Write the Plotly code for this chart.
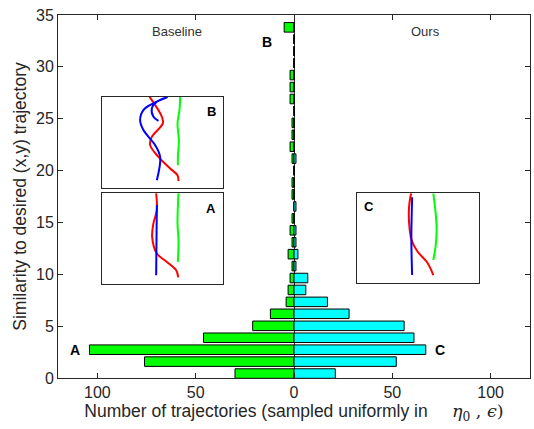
import plotly.graph_objects as go

# ---------------- data ----------------
bin_centers = [0.43, 1.58, 2.73, 3.88, 5.03, 6.19, 7.34, 8.49, 9.64, 10.79,
               11.94, 13.09, 14.24, 15.39, 16.54, 17.70, 18.85, 20.00, 21.15, 22.30,
               23.45, 24.60, 25.75, 26.90, 28.05, 29.21, 30.36, 31.51, 32.66, 33.81]
baseline_counts = [30, 76, 104, 46, 21, 12, 4, 3, 2, 1,
                   3, 1, 2, 1, 0, 1, 1, 0, 1, 2,
                   1, 1, 0, 2, 2, 2, 0, 0, 0, 5]
ours_counts = [21, 52, 67, 61, 56, 28, 17, 6, 7, 1,
               2, 1, 1, 0, 1, 0, 0, 0, 1, 0,
               0, 0, 0, 0, 0, 0, 0, 0, 0, 0]

x_tickvals = [-100, -50, 0, 50, 100]
x_ticktext = ["100", "50", "0", "50", "100"]
y_tickvals = [0, 5, 10, 15, 20, 25, 30, 35]

# inset trajectories (local picture coordinates inside each inset box)
inset_B_green_x = [78.3, 77.6, 75.6, 77.0, 76.0, 76.0]
inset_B_green_y = [0.0, 13.3, 26.7, 43.3, 60.0, 68.3]
inset_B_red_x = [47.6, 60.0, 61.0, 50.0, 48.3, 56.6, 68.3, 75.6, 76.6]
inset_B_red_y = [0.0, 20.0, 26.6, 40.0, 48.3, 60.0, 71.6, 78.3, 84.0]
inset_B_blue_x = [55.0, 58.3, 53.3, 41.6, 38.3, 41.6, 51.6, 65.0, 55.0, 50.0, 51.6, 56.6]
inset_B_blue_y = [83.3, 60.0, 48.3, 33.3, 23.3, 13.3, 6.6, 0.6, 5.0, 11.6, 20.0, 24.0]

inset_A_green_x = [76.6, 75.6, 76.6, 76.0]
inset_A_green_y = [0.6, 30.3, 47.3, 69.0]
inset_A_red_x = [54.3, 55.0, 51.6, 50.3, 55.0, 65.0, 74.3, 76.3]
inset_A_red_y = [0.6, 17.3, 30.6, 44.0, 60.6, 69.0, 77.3, 84.3]
inset_A_blue_x = [55.0, 54.3]
inset_A_blue_y = [12.3, 82.3]

inset_C_green_x = [75.4, 77.7, 78.7, 77.7, 75.4]
inset_C_green_y = [0.0, 20.0, 36.7, 53.4, 67.4]
inset_C_red_x = [53.4, 51.4, 51.4, 53.7, 59.4, 69.4, 75.4]
inset_C_red_y = [0.0, 13.4, 30.0, 46.7, 58.4, 70.0, 82.7]
inset_C_blue_x = [54.4, 53.7, 53.7, 54.4]
inset_C_blue_y = [4.0, 36.7, 53.4, 82.7]

AX = "#262626"
FONT = "Liberation Sans, Arial, Helvetica, sans-serif"

fig = go.Figure()

fig.add_trace(go.Bar(
    y=bin_centers, x=[-v for v in baseline_counts], orientation="h",
    width=0.92, marker=dict(color="#00FF00", line=dict(color="black", width=1)),
    showlegend=False, hoverinfo="skip"))
fig.add_trace(go.Bar(
    y=bin_centers, x=ours_counts, orientation="h",
    width=0.92, marker=dict(color="#00FFFF", line=dict(color="black", width=1)),
    showlegend=False, hoverinfo="skip"))

# ---------- insets ----------
W, H = 121.0, 91.0
insets = [
    ("2", (0.0926, 0.3496), (0.5234, 0.775),
     [(inset_B_red_x, inset_B_red_y, "#FF0000"),
      (inset_B_blue_x, inset_B_blue_y, "#0000FF"),
      (inset_B_green_x, inset_B_green_y, "#00FF00")], "B", 109.3, 14.3),
    ("3", (0.0926, 0.3496), (0.259, 0.5105),
     [(inset_A_red_x, inset_A_red_y, "#FF0000"),
      (inset_A_blue_x, inset_A_blue_y, "#0000FF"),
      (inset_A_green_x, inset_A_green_y, "#00FF00")], "A", 109.3, 15.3),
    ("4", (0.634, 0.8926), (0.2609, 0.5088),
     [(inset_C_red_x, inset_C_red_y, "#FF0000"),
      (inset_C_blue_x, inset_C_blue_y, "#0000FF"),
      (inset_C_green_x, inset_C_green_y, "#00FF00")], "C", 11.7, 13.7),
]

annotations = []
for n, xd, yd, curves, lab, lx, ly in insets:
    for cx, cy, col in curves:
        fig.add_trace(go.Scatter(x=cx, y=cy, mode="lines", xaxis="x" + n, yaxis="y" + n,
                                 line=dict(color=col, width=2, shape="spline", smoothing=1.0),
                                 showlegend=False, hoverinfo="skip"))
    fig.layout["xaxis" + n] = dict(domain=list(xd), range=[0, W], anchor="y" + n,
                                   showline=True, mirror=True, linecolor=AX, linewidth=1,
                                   showticklabels=False, ticks="", showgrid=False, zeroline=False,
                                   fixedrange=True, automargin=False)
    fig.layout["yaxis" + n] = dict(domain=list(yd), range=[H, 0], anchor="x" + n,
                                   showline=True, mirror=True, linecolor=AX, linewidth=1,
                                   showticklabels=False, ticks="", showgrid=False, zeroline=False,
                                   fixedrange=True, automargin=False)
    annotations.append(dict(x=lx, y=ly, xref="x" + n, yref="y" + n, text="<b>" + lab + "</b>",
                            showarrow=False, font=dict(family=FONT, size=13, color="black")))

annotations += [
    dict(x=-59.6, y=33.4, text="Baseline", showarrow=False,
         font=dict(family=FONT, size=13, color="#333333")),
    dict(x=67, y=33.4, text="Ours", showarrow=False,
         font=dict(family=FONT, size=13, color="#333333")),
    dict(x=-13.9, y=32.4, text="<b>B</b>", showarrow=False,
         font=dict(family=FONT, size=14, color="black")),
    dict(x=-111.3, y=2.7, text="<b>A</b>", showarrow=False,
         font=dict(family=FONT, size=14, color="black")),
    dict(x=74.4, y=2.7, text="<b>C</b>", showarrow=False,
         font=dict(family=FONT, size=14, color="black")),
]

xtitle = ("Number of trajectories (sampled uniformly in\u00a0\u00a0\u00a0\u00a0\u00a0"
          "<span style='font-family:DejaVu Serif'><i>η</i><sub>0</sub> , <i>ϵ</i>)</span>")

fig.update_layout(
    width=534, height=429,
    margin=dict(l=58, r=4, t=15, b=51, autoexpand=False),
    paper_bgcolor="white", plot_bgcolor="white",
    barmode="overlay",
    font=dict(family=FONT, size=16, color=AX),
    xaxis=dict(range=[-120, 120], tickvals=x_tickvals, ticktext=x_ticktext,
               ticks="inside", ticklen=5, tickcolor=AX, tickwidth=1,
               showline=True, mirror="ticks", linecolor=AX, linewidth=1,
               showgrid=False, zeroline=True, zerolinecolor="#333333", zerolinewidth=1,
               tickfont=dict(size=16, color=AX), automargin=False,
               title=dict(text=xtitle, font=dict(size=17.5, color=AX), standoff=2)),
    yaxis=dict(range=[0, 35], tickvals=y_tickvals,
               ticks="inside", ticklen=5, tickcolor=AX, tickwidth=1,
               showline=True, mirror="ticks", linecolor=AX, linewidth=1,
               showgrid=False, zeroline=False, automargin=False,
               tickfont=dict(size=16, color=AX),
               title=dict(text="Similarity to desired (x,y) trajectory",
                          font=dict(size=17.5, color=AX), standoff=4)),
    annotations=annotations,
)

fig.write_html("out.html", config={"displayModeBar": False},
               post_script="document.body.style.margin='0';document.body.style.padding='0';")
